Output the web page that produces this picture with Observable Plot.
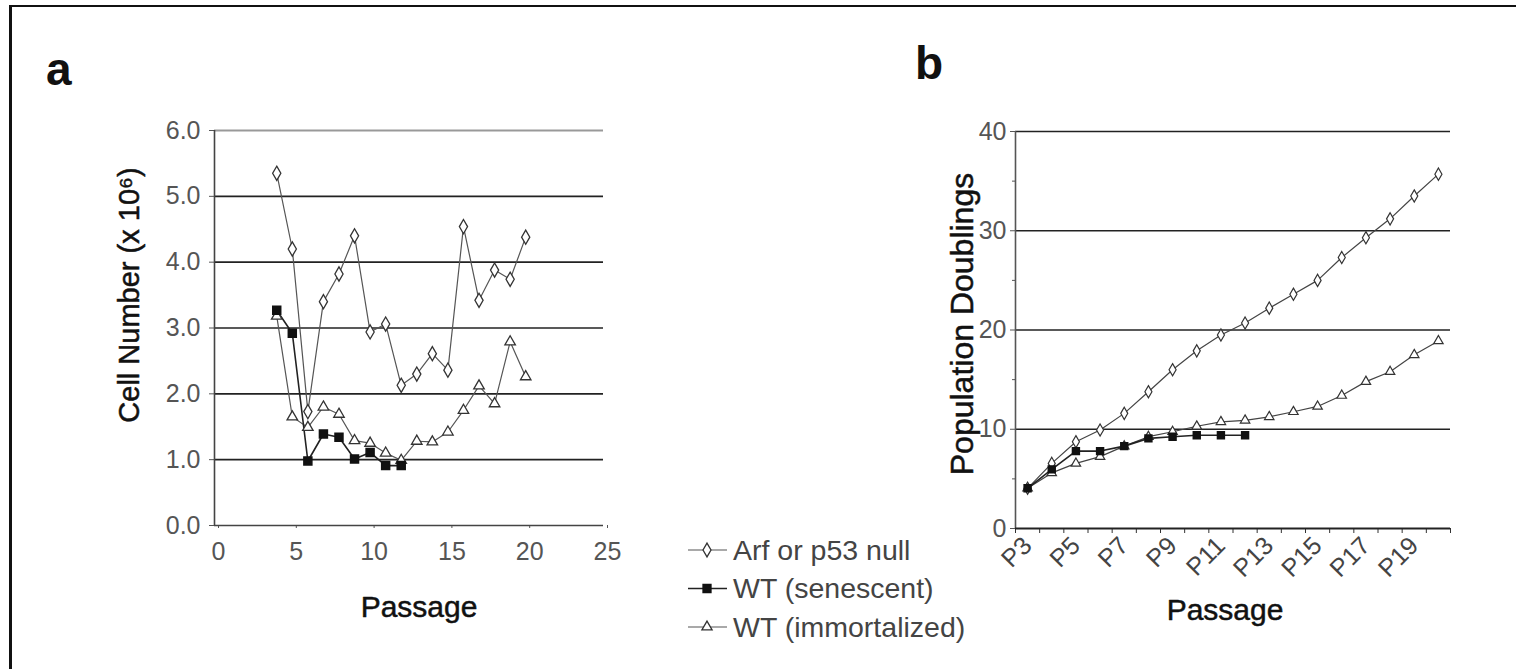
<!DOCTYPE html>
<html>
<head>
<meta charset="utf-8">
<script src="https://cdn.jsdelivr.net/npm/d3@7"></script>
<script src="https://cdn.jsdelivr.net/npm/@observablehq/plot@0.6"></script>
<style>
  html, body { margin: 0; padding: 0; background: #fff; }
  #fig { position: relative; width: 1516px; height: 669px; overflow: hidden; font-family: "Liberation Sans", Arial, sans-serif; }
  #border { position: absolute; left: 9px; top: 5px; width: 1600px; height: 800px; border-top: 2.5px solid #111; border-left: 3px solid #111; }
  .panel { position: absolute; top: 0; }
  .letter { position: absolute; font-weight: bold; font-size: 46px; color: #111; line-height: 1; }
  #legend { position: absolute; left: 680px; top: 525px; }
</style>
</head>
<body>
<div id="fig">
  <div id="border"></div>
  <div class="letter" style="left:46px; top:46px;">a</div>
  <div class="letter" style="left:915px; top:40px;">b</div>
  <div id="panelA" class="panel" style="left:0px;"></div>
  <div id="panelB" class="panel" style="left:880px;"></div>
  <div id="legend"></div>
</div>
<script>
// ---------- Data: panel a (cell number x 10^6 vs passage) ----------
const passageA = [4,5,6,7,8,9,10,11,12,13,14,15,16,17,18,19,20];
const arfA     = [5.35,4.2,1.73,3.4,3.82,4.4,2.94,3.06,2.13,2.3,2.61,2.36,4.54,3.42,3.88,3.74,4.38];
const passageSenA = [4,5,6,7,8,9,10,11,12];
const senA     = [3.27,2.92,0.98,1.39,1.34,1.01,1.11,0.91,0.91];
const immA     = [3.18,1.65,1.49,1.8,1.69,1.29,1.25,1.1,0.99,1.28,1.27,1.42,1.75,2.12,1.85,2.79,2.26];
const xTicksA  = [0,5,10,15,20,25];
const yTicksA  = [0,1,2,3,4,5,6];

// ---------- Data: panel b (population doublings vs passage) ----------
const passageB = [3,4,5,6,7,8,9,10,11,12,13,14,15,16,17,18,19,20];
const arfB     = [4.05,6.56,8.74,9.92,11.6,13.78,16.0,17.9,19.5,20.7,22.2,23.6,25.0,27.3,29.3,31.2,33.5,35.7];
const passageSenB = [3,4,5,6,7,8,9,10,11,12];
const senB     = [4.05,5.96,7.8,7.8,8.3,9.08,9.25,9.4,9.4,9.4];
const immB     = [4.05,5.6,6.56,7.24,8.3,9.25,9.75,10.3,10.75,10.9,11.25,11.76,12.3,13.4,14.8,15.8,17.5,18.9];
const xTickLabelsB = ["P3","P5","P7","P9","P11","P13","P15","P17","P19"];
const yTicksB  = [0,10,20,30,40];
const yMinorB  = [5,15,25,35];

const seriesNames = ["Arf or p53 null","WT (senescent)","WT (immortalized)"];
const yTitleA = "Cell Number (x 10\u2076)";
const yTitleB = "Population Doublings";
const xTitle  = "Passage";

const font = "Liberation Sans, Arial, sans-serif";
const rowsA = {
  arf: passageA.map((p,i)=>({p, v: arfA[i]})),
  sen: passageSenA.map((p,i)=>({p, v: senA[i]})),
  imm: passageA.map((p,i)=>({p, v: immA[i]}))
};
const rowsB = {
  arf: passageB.map((p,i)=>({p, v: arfB[i]})),
  sen: passageSenB.map((p,i)=>({p, v: senB[i]})),
  imm: passageB.map((p,i)=>({p, v: immB[i]}))
};
const titleStyle = {fill: "#111", stroke: "#111", strokeWidth: 0.5, textAnchor: "middle", lineAnchor: "middle"};

// ---------- Panel a ----------
const plotA = Plot.plot({
  width: 640, height: 669,
  marginLeft: 214, marginRight: 37, marginTop: 130, marginBottom: 144,
  style: {fontFamily: font, background: "transparent", overflow: "visible"},
  x: {domain: [0, 25]},
  y: {domain: [0, 6]},
  marks: [
    Plot.ruleY(yTicksA.filter(v => v > 0 && v < 6), {y: d => d, stroke: "#222", strokeWidth: 1.7}),
    Plot.ruleY(yTicksA.filter(v => v === 6), {y: d => d, stroke: "#999", strokeWidth: 2}),
    Plot.axisY({ticks: yTicksA, tickFormat: d3.format(".1f"), tickSize: 5, tickPadding: 9, fontSize: 25, color: "#555", label: null}),
    Plot.axisX({ticks: xTicksA, tickSize: 3, tickPadding: 14, fontSize: 25, color: "#555", dx: 4, label: null}),
    Plot.ruleX([0], {stroke: "#444", strokeWidth: 1.6}),
    Plot.ruleY([0], {stroke: "#444", strokeWidth: 1.6}),
    Plot.line(rowsA.imm, {x: "p", y: "v", stroke: "#555", strokeWidth: 1.2}),
    Plot.line(rowsA.arf, {x: "p", y: "v", stroke: "#555", strokeWidth: 1.2}),
    Plot.line(rowsA.sen, {x: "p", y: "v", stroke: "#222", strokeWidth: 1.6}),
    Plot.dot(rowsA.imm, {x: "p", y: "v", symbol: "triangle", r: 3.9, fill: "white", stroke: "#333", strokeWidth: 1.3}),
    Plot.dot(rowsA.arf, {x: "p", y: "v", symbol: "diamond", r: 4.3, fill: "white", stroke: "#333", strokeWidth: 1.3}),
    Plot.dot(rowsA.sen, {x: "p", y: "v", symbol: "square", r: 4.5, fill: "#111", stroke: "#111"}),
    Plot.text([yTitleA], {frameAnchor: "left", dx: -85, dy: -33, rotate: -90, fontSize: 29, text: d => d, ...titleStyle}),
    Plot.text([xTitle], {frameAnchor: "bottom", dx: 10, dy: 82, fontSize: 30, text: d => d, ...titleStyle})
  ]
});
document.getElementById("panelA").appendChild(plotA);

// ---------- Panel b ----------
const xDomainB = [2.5, 20.5];
const boundariesB = d3.range(xDomainB[0], xDomainB[1] + 0.01, 1);
const labelOf = d => xTickLabelsB.find(s => s === "P" + d) || "";
const plotB = Plot.plot({
  width: 636, height: 669,
  marginLeft: 135, marginRight: 66, marginTop: 131, marginBottom: 141,
  style: {fontFamily: font, background: "transparent", overflow: "visible"},
  x: {domain: xDomainB},
  y: {domain: [0, 40]},
  marks: [
    Plot.ruleY(yTicksB.filter(v => v > 0), {y: d => d, stroke: "#222", strokeWidth: 1.7}),
    Plot.axisY({ticks: yTicksB, tickSize: 5, tickPadding: 4, fontSize: 25, color: "#555", label: null}),
    Plot.axisY({ticks: yMinorB, tickSize: 3, tickFormat: () => "", color: "#555", label: null}),
    Plot.axisX({ticks: boundariesB, tickSize: 5, tickFormat: () => "", color: "#333", label: null}),
    Plot.axisX({ticks: xTickLabelsB.map(s => +s.slice(1)), tickSize: 0, tickPadding: 13, tickRotate: -45, fontSize: 25, color: "#444", tickFormat: labelOf, label: null}),
    Plot.ruleX([xDomainB[0]], {stroke: "#555", strokeWidth: 1.6}),
    Plot.ruleY([0], {stroke: "#222", strokeWidth: 1.8}),
    Plot.line(rowsB.imm, {x: "p", y: "v", stroke: "#444", strokeWidth: 1.2}),
    Plot.line(rowsB.arf, {x: "p", y: "v", stroke: "#444", strokeWidth: 1.2}),
    Plot.line(rowsB.sen, {x: "p", y: "v", stroke: "#222", strokeWidth: 1.6}),
    Plot.dot(rowsB.imm, {x: "p", y: "v", symbol: "triangle", r: 3.5, fill: "white", stroke: "#333", strokeWidth: 1.2}),
    Plot.dot(rowsB.arf, {x: "p", y: "v", symbol: "diamond", r: 3.7, fill: "white", stroke: "#333", strokeWidth: 1.2}),
    Plot.dot(rowsB.sen, {x: "p", y: "v", symbol: "square", r: 3.9, fill: "#111", stroke: "#111"}),
    Plot.text([yTitleB], {frameAnchor: "left", dx: -53, dy: -6, rotate: -90, fontSize: 32, text: d => d, ...titleStyle}),
    Plot.text([xTitle], {frameAnchor: "bottom", dx: -8, dy: 82, fontSize: 30, text: d => d, ...titleStyle})
  ]
});
document.getElementById("panelB").appendChild(plotB);

// ---------- Legend ----------
const legendSymbols = [
  {sym: d3.symbolDiamond, size: 55, fill: "white", stroke: "#333"},
  {sym: d3.symbolSquare, size: 64, fill: "#111", stroke: "#111"},
  {sym: d3.symbolTriangle, size: 45, fill: "white", stroke: "#333"}
];
const lg = d3.select("#legend").append("svg").attr("width", 330).attr("height", 140)
  .style("font-family", font);
seriesNames.forEach((name, i) => {
  const g = lg.append("g").attr("transform", `translate(0,${25 + i * 38.5})`);
  g.append("line").attr("x1", 8).attr("x2", 47).attr("y1", 0).attr("y2", 0)
    .attr("stroke", i === 1 ? "#222" : "#555").attr("stroke-width", i === 1 ? 1.6 : 1.2);
  g.append("path").attr("transform", "translate(27,0)")
    .attr("d", d3.symbol(legendSymbols[i].sym, legendSymbols[i].size)())
    .attr("fill", legendSymbols[i].fill).attr("stroke", legendSymbols[i].stroke).attr("stroke-width", 1.3);
  g.append("text").attr("x", 53).attr("y", 0).attr("dy", "0.35em")
    .attr("font-size", 28.5).attr("fill", "#444").text(name);
});
</script>
</body>
</html>
